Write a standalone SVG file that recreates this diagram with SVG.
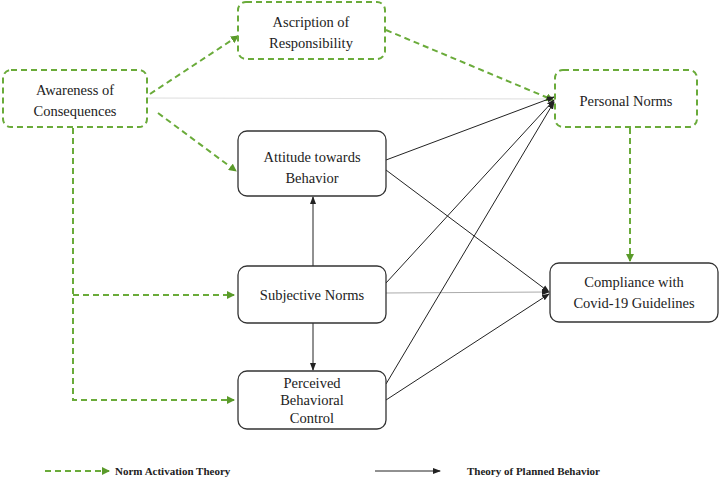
<svg xmlns="http://www.w3.org/2000/svg" width="720" height="483" viewBox="0 0 720 483">
<defs>
<style>
.nat{fill:#fff;stroke:#6aab3a;stroke-width:2;stroke-dasharray:6,4}
.tpb{fill:#fff;stroke:#333;stroke-width:1.3}
.t{font-family:"Liberation Serif",serif;font-size:14.5px;fill:#222;text-anchor:middle}
.g{fill:none;stroke:#6aab3a;stroke-width:2;stroke-dasharray:6,4}
.k{fill:none;stroke:#222;stroke-width:1}
.lg{font-family:"Liberation Serif",serif;font-size:11px;font-weight:bold;fill:#222}
</style>
<marker id="ag" markerWidth="8" markerHeight="8" refX="7" refY="4" orient="auto" markerUnits="userSpaceOnUse"><path d="M0,0 L8,4 L0,8 Z" fill="#5a9a2a"/></marker>
<marker id="ak" markerWidth="8" markerHeight="8" refX="7" refY="4" orient="auto" markerUnits="userSpaceOnUse"><path d="M0,1 L8,4 L0,7 Z" fill="#222"/></marker>
</defs>
<g id="connectors">
<line x1="147" y1="98" x2="548" y2="99" stroke="#ddd" stroke-width="1"/>
<line class="g" x1="150" y1="94" x2="238" y2="36" marker-end="url(#ag)"/>
<line class="g" x1="158" y1="113" x2="236" y2="171" marker-end="url(#ag)"/>
<line class="g" x1="386" y1="30" x2="553" y2="100" marker-end="url(#ag)"/>
<polyline class="g" points="73,128 73,400 234,400" marker-end="url(#ag)"/>
<line class="g" x1="73" y1="295" x2="234" y2="295" marker-end="url(#ag)"/>
<line class="g" x1="630" y1="128" x2="630" y2="261" marker-end="url(#ag)"/>
<line class="k" x1="386" y1="160" x2="554" y2="97" stroke-width="2" marker-end="url(#ak)"/>
<line class="k" x1="386" y1="170" x2="549" y2="292" marker-end="url(#ak)"/>
<line class="k" x1="386" y1="283" x2="554" y2="100" marker-end="url(#ak)"/>
<line x1="386" y1="293" x2="549" y2="292" stroke="#aaa" stroke-width="1" marker-end="url(#ak)"/>
<line class="k" x1="386" y1="384" x2="554" y2="102" marker-end="url(#ak)"/>
<line class="k" x1="386" y1="400" x2="549" y2="294" marker-end="url(#ak)"/>
<line class="k" x1="313" y1="266" x2="313" y2="197" stroke-width="1.5" marker-end="url(#ak)"/>
<line class="k" x1="313" y1="323" x2="313" y2="370" stroke-width="1.5" marker-end="url(#ak)"/>
</g>
<g id="awareness"><rect class="nat" x="3" y="70" width="144" height="57" rx="8"/><text class="t" x="75" y="95">Awareness of</text><text class="t" x="75" y="116">Consequences</text></g>
<g id="ascription"><rect class="nat" x="238" y="2" width="147" height="57" rx="8"/><text class="t" x="311" y="27">Ascription of</text><text class="t" x="311" y="48">Responsibility</text></g>
<g id="attitude"><rect class="tpb" x="238" y="131" width="148" height="65" rx="9"/><text class="t" x="312" y="162">Attitude towards</text><text class="t" x="312" y="183">Behavior</text></g>
<g id="subjective"><rect class="tpb" x="238" y="266" width="148" height="57" rx="9"/><text class="t" x="312" y="300">Subjective Norms</text></g>
<g id="perceived"><rect class="tpb" x="238" y="371" width="148" height="58" rx="9"/><text class="t" x="312" y="388">Perceived</text><text class="t" x="312" y="405">Behavioral</text><text class="t" x="312" y="423">Control</text></g>
<g id="personal"><rect class="nat" x="555" y="70" width="142" height="57" rx="8"/><text class="t" x="626" y="106">Personal Norms</text></g>
<g id="compliance"><rect class="tpb" x="550" y="263" width="168" height="59" rx="9"/><text class="t" x="634" y="287">Compliance with</text><text class="t" x="634" y="308">Covid-19 Guidelines</text></g>
<g id="legend">
<line class="g" x1="45" y1="471" x2="109" y2="471" stroke-width="1.5" marker-end="url(#ag)"/>
<text class="lg" x="115" y="475">Norm Activation Theory</text>
<line class="k" x1="375" y1="471" x2="440" y2="471" marker-end="url(#ak)"/>
<text class="lg" x="467" y="475">Theory of Planned Behavior</text>
</g>
</svg>
